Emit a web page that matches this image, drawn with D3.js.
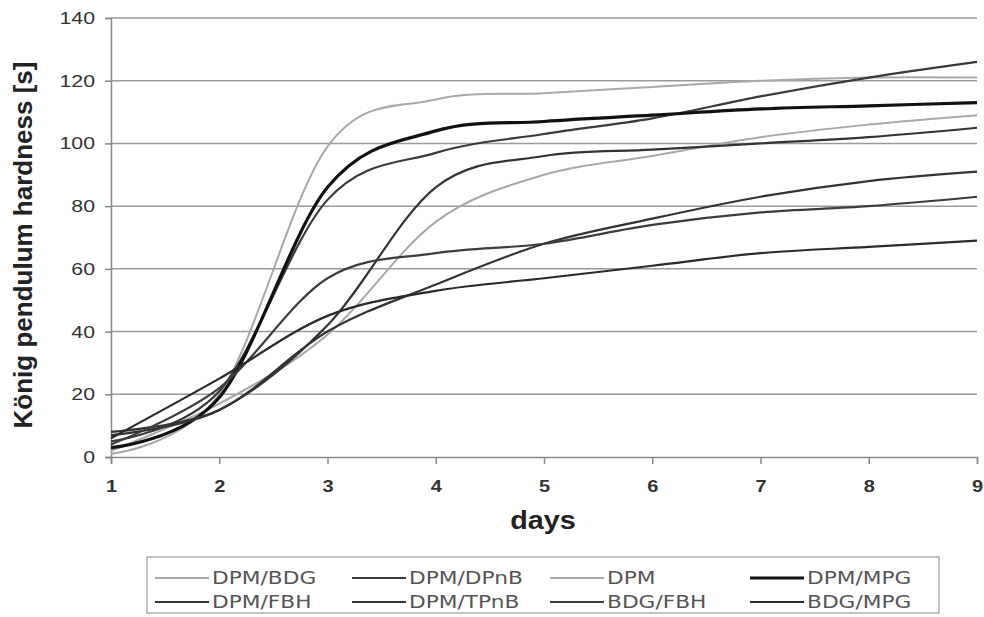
<!DOCTYPE html>
<html>
<head>
<meta charset="utf-8">
<script src="https://cdn.jsdelivr.net/npm/d3@7"></script>
<style>
  body { margin: 0; background: #fff; }
  svg { display: block; }
</style>
</head>
<body>
<svg id="chart" width="984" height="617"></svg>
<script>
// ----------------- DATA -----------------
var days = [1, 2, 3, 4, 5, 6, 7, 8, 9];
var yTicks = [0, 20, 40, 60, 80, 100, 120, 140];

var seriesNames = ['DPM/BDG', 'DPM/DPnB', 'DPM', 'DPM/MPG',
                   'DPM/FBH', 'DPM/TPnB', 'BDG/FBH', 'BDG/MPG'];

var dpmBdg  = [1, 20, 99, 114, 116, 118, 120, 121, 121];
var dpmDpnb = [5, 21, 82, 97, 103, 108, 115, 121, 126];
var dpm     = [2, 17, 39, 75, 90, 96, 102, 106, 109];
var dpmMpg  = [3, 19, 86, 104, 107, 109, 111, 112, 113];
var dpmFbh  = [7, 15, 42, 86, 96, 98, 100, 102, 105];
var dpmTpnb = [8, 15, 40, 55, 68, 76, 83, 88, 91];
var bdgFbh  = [4, 22, 57, 65, 68, 74, 78, 80, 83];
var bdgMpg  = [6, 25, 45, 53, 57, 61, 65, 67, 69];

var seriesValues = [dpmBdg, dpmDpnb, dpm, dpmMpg, dpmFbh, dpmTpnb, bdgFbh, bdgMpg];
var seriesColors = ['#a8a8a8', '#3a3a3a', '#a8a8a8', '#111111',
                    '#333333', '#333333', '#3c3c3c', '#2a2a2a'];
var seriesWidths = [2, 2.2, 2, 3.2, 2.2, 2.2, 2.2, 2.2];

// ----------------- CHART -----------------
var svg = d3.select('#chart');
var stretch = 1.25;   // text in the picture is drawn a bit wide

var x = d3.scaleLinear().domain([1, 9]).range([111, 977]);
var y = d3.scaleLinear().domain([0, 140]).range([457, 18]);

// gridlines
svg.append('g')
    .selectAll('line')
    .data(yTicks.filter(function(d) { return d > 0; }))
    .join('line')
    .attr('x1', x(1)).attr('x2', x(9))
    .attr('y1', function(d) { return y(d); })
    .attr('y2', function(d) { return y(d); })
    .attr('stroke', '#9a9a9a')
    .attr('stroke-width', 1.5);

// y axis
var yAxis = d3.axisLeft(y).tickValues(yTicks).tickSize(6);
var gy = svg.append('g')
    .attr('transform', 'translate(' + x(1) + ',0)')
    .call(yAxis);
gy.select('.domain').attr('stroke', '#888').attr('stroke-width', 1.5);
gy.selectAll('.tick line').attr('stroke', '#888').attr('stroke-width', 1.5);
gy.selectAll('.tick text')
    .attr('x', 0)
    .attr('transform', 'translate(-16,0) scale(' + stretch + ',1)')
    .style('font', '17px "Liberation Sans", Arial, sans-serif')
    .attr('fill', '#333');

// x axis
var xAxis = d3.axisBottom(x).tickValues(days).tickSize(7);
var gx = svg.append('g')
    .attr('transform', 'translate(0,' + y(0) + ')')
    .call(xAxis);
gx.select('.domain').attr('stroke', '#888').attr('stroke-width', 1.5);
gx.selectAll('.tick line').attr('stroke', '#888').attr('stroke-width', 1.5);
gx.selectAll('.tick text')
    .attr('y', 0).attr('dy', 0)
    .attr('transform', 'translate(0,35) scale(' + stretch + ',1)')
    .style('font', 'bold 16px "Liberation Sans", Arial, sans-serif')
    .attr('fill', '#333');

// axis titles
svg.append('text')
    .attr('transform', 'translate(32,245) rotate(-90)')
    .attr('text-anchor', 'middle')
    .style('font', 'bold 26px "Liberation Sans", Arial, sans-serif')
    .attr('fill', '#222')
    .text('König pendulum hardness [s]');

svg.append('text')
    .attr('transform', 'translate(' + (x(5) - 1) + ',529) scale(1.15,1)')
    .attr('text-anchor', 'middle')
    .style('font', 'bold 25px "Liberation Sans", Arial, sans-serif')
    .attr('fill', '#222')
    .text('days');

// lines (Excel-style smoothing)
var line = d3.line()
    .x(function(d, i) { return x(days[i]); })
    .y(function(d) { return y(d); })
    .curve(d3.curveCardinal.tension(0));

svg.append('g')
    .selectAll('path')
    .data(seriesValues)
    .join('path')
    .attr('d', function(d) { return line(d); })
    .attr('fill', 'none')
    .attr('stroke', function(d, i) { return seriesColors[i]; })
    .attr('stroke-width', function(d, i) { return seriesWidths[i]; });

// ----------------- LEGEND -----------------
var legend = svg.append('g');
legend.append('rect')
    .attr('x', 147).attr('y', 557)
    .attr('width', 792).attr('height', 56)
    .attr('fill', '#fff')
    .attr('stroke', '#999')
    .attr('stroke-width', 1.2);

var colX = [155, 352, 550, 750];
var rowY = [578, 602];
var item = legend.selectAll('g.item')
    .data(seriesNames)
    .join('g')
    .attr('class', 'item')
    .attr('transform', function(d, i) {
        return 'translate(' + colX[i % 4] + ',' + rowY[Math.floor(i / 4)] + ')';
    });
item.append('line')
    .attr('x1', 0).attr('x2', 54)
    .attr('stroke', function(d, i) { return seriesColors[i]; })
    .attr('stroke-width', function(d, i) { return seriesWidths[i]; });
item.append('text')
    .attr('transform', 'translate(57,0) scale(1.24,1)')
    .attr('dy', '0.36em')
    .style('font', '17.5px "DejaVu Sans", Verdana, sans-serif')
    .attr('fill', '#555')
    .text(function(d) { return d; });
</script>
</body>
</html>
